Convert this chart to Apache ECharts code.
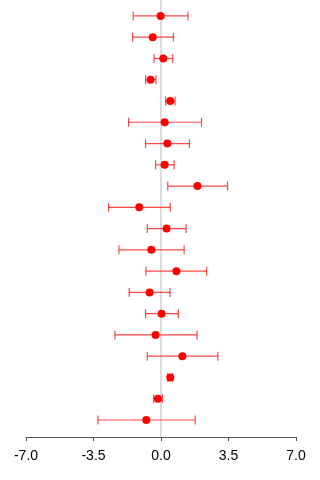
<!DOCTYPE html>
<html>
<head>
<meta charset="utf-8">
<style>
  html, body { margin: 0; padding: 0; background: #fff; }
  #chart { width: 320px; height: 480px; }
</style>
<script src="https://cdn.jsdelivr.net/npm/echarts@6/dist/echarts.min.js"></script>
</head>
<body>
<div id="chart"></div>
<script>
// Estimates (top row first) with lower and upper interval bounds
var estimates = [-0.02, -0.43, 0.12, -0.54, 0.48, 0.19, 0.33, 0.19, 1.89, -1.13,
                 0.29, -0.50, 0.80, -0.59, 0.03, -0.28, 1.11, 0.48, -0.16, -0.76];
var lower     = [-1.44, -1.47, -0.36, -0.80, 0.24, -1.68, -0.80, -0.28, 0.35, -2.72,
                 -0.71, -2.18, -0.78, -1.65, -0.80, -2.39, -0.71, 0.35, -0.38, -3.27];
var upper     = [1.40, 0.64, 0.61, -0.26, 0.73, 2.10, 1.47, 0.68, 3.45, 0.48,
                 1.30, 1.20, 2.37, 0.47, 0.90, 1.87, 2.95, 0.61, 0.07, 1.77];
var xTicks = [-7, -3.5, 0, 3.5, 7];

var rows = estimates.map(function (v, i) { return i + 1; });
var pointData = estimates.map(function (v, i) { return [v, rows[i]]; });
var barData = estimates.map(function (v, i) { return [lower[i], upper[i], rows[i]]; });

var chart = echarts.init(document.getElementById('chart'));
chart.setOption({
  animation: false,
  grid: { left: 26, right: 24, top: 0, bottom: 43 },
  xAxis: {
    type: 'value',
    min: xTicks[0],
    max: xTicks[xTicks.length - 1],
    interval: xTicks[1] - xTicks[0],
    splitLine: { show: false },
    axisLine: { show: true, lineStyle: { color: '#555', width: 1 } },
    axisTick: { show: true, length: 4, lineStyle: { color: '#555' } },
    axisLabel: {
      color: '#000',
      fontFamily: 'Liberation Sans, Arial, sans-serif',
      fontSize: 14,
      margin: 12,
      formatter: function (v) { return v.toFixed(1); }
    }
  },
  yAxis: {
    type: 'value',
    inverse: true,
    min: 0.25,
    max: 20.8,
    show: false
  },
  series: [
    {
      // reference line at zero, kept beneath the marks
      type: 'line',
      data: [],
      silent: true,
      z: 1,
      markLine: {
        z: 1,
        symbol: 'none',
        silent: true,
        label: { show: false },
        lineStyle: { color: '#dcdcdc', width: 2, type: 'solid' },
        data: [{ xAxis: 0 }]
      }
    },
    {
      type: 'custom',
      z: 8,
      data: barData,
      renderItem: function (params, api) {
        var y = api.value(2);
        var p1 = api.coord([api.value(0), y]);
        var p2 = api.coord([api.value(1), y]);
        var h = 4.5;
        var style = { stroke: 'rgba(255,0,0,0.72)', lineWidth: 1.2 };
        return {
          type: 'group',
          children: [
            { type: 'line', shape: { x1: p1[0], y1: p1[1], x2: p2[0], y2: p2[1] }, style: style },
            { type: 'line', shape: { x1: p1[0], y1: p1[1] - h, x2: p1[0], y2: p1[1] + h }, style: style },
            { type: 'line', shape: { x1: p2[0], y1: p2[1] - h, x2: p2[0], y2: p2[1] + h }, style: style }
          ]
        };
      }
    },
    {
      type: 'scatter',
      z: 10,
      data: pointData,
      symbol: 'circle',
      symbolSize: 8,
      itemStyle: { color: '#ff0000', opacity: 1 }
    }
  ]
});
</script>
</body>
</html>
